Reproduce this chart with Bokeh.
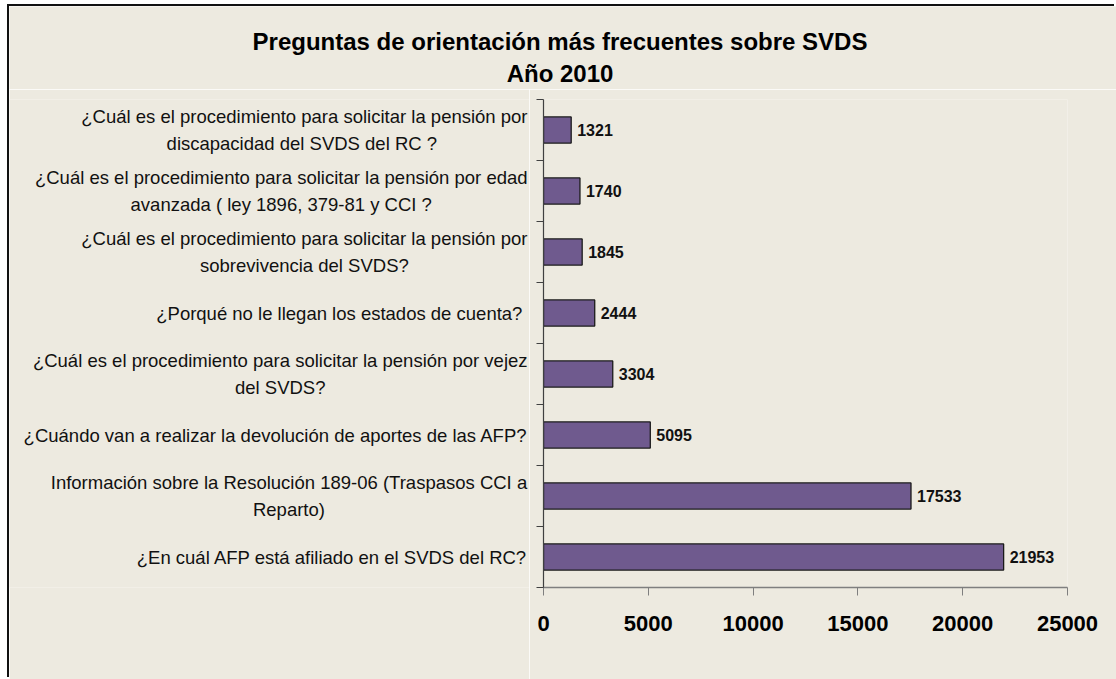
from bokeh.plotting import figure
from bokeh.models import ColumnDataSource, Range1d, FixedTicker, GlobalInlineStyleSheet
from bokeh.layouts import column, row
from bokeh.core.properties import value
from bokeh.embed import file_html
from bokeh.resources import INLINE

# ---------------- data ----------------
questions = [
    "¿Cuál es el procedimiento para solicitar la pensión por\ndiscapacidad del  SVDS del RC ?",
    "¿Cuál es el procedimiento para solicitar la pensión por edad\navanzada ( ley 1896, 379-81 y CCI ?",
    "¿Cuál es el procedimiento para solicitar la pensión por\nsobrevivencia del SVDS?",
    "¿Porqué no le  llegan los estados de cuenta?",
    "¿Cuál es el procedimiento para solicitar la pensión por vejez\ndel SVDS?",
    "¿Cuándo van a realizar la devolución de aportes de las AFP?",
    "Información sobre la Resolución 189-06 (Traspasos CCI a\nReparto)",
    "¿En cuál AFP está afiliado en el SVDS del RC?",
]
counts = [1321, 1740, 1845, 2444, 3304, 5095, 17533, 21953]
x_ticks = [0, 5000, 10000, 15000, 20000, 25000]
title_lines = ["Preguntas de orientación más frecuentes sobre SVDS", "Año 2010"]

# ---------------- layout constants (page pixels) ----------------
PAGE_W, PAGE_H = 1116, 679
ORIG_X, ORIG_Y = 9, 6            # inner (beige) origin after outer border
FRAME_L, FRAME_R, FRAME_T, FRAME_B = 543, 1067, 99, 587
CHART_MB_L, CHART_MB_T = 14, 10
CHART_MB_R, CHART_MB_B = PAGE_W - FRAME_R, PAGE_H - FRAME_B
CHART_X0 = FRAME_L - CHART_MB_L          # page x where chart figure starts
CHART_Y0 = FRAME_T - CHART_MB_T          # page y where chart figure starts
INNER_W = PAGE_W - ORIG_X
TITLE_H = CHART_Y0 - ORIG_Y
LABEL_W = CHART_X0 - ORIG_X
CHART_W = PAGE_W - CHART_X0
CHART_H = PAGE_H - CHART_Y0
X_MAX = 25000
N = len(questions)
BG = "#EDEAE0"
BAR = "#6F5A8E"
FONT = "Liberation Sans"
CAT_SIZE = 18.5
LABEL_RIGHT_PAGE = 527
TITLE_CX_PAGE = 559.5
TITLE_CY_PAGE = [41, 73]

# Arial-compatible advance widths (per 1000 em) to centre wrapped labels
W = {c: 556 for c in "0123456789"}
W.update(dict(A=667, B=667, C=722, D=722, E=667, F=611, G=778, H=722, I=278, J=500, K=667,
              L=556, M=833, N=722, O=778, P=667, Q=778, R=722, S=667, T=611, U=722, V=667,
              W=944, X=667, Y=667, Z=611))
W.update(dict(a=556, b=556, c=500, d=556, e=556, f=278, g=556, h=556, i=222, j=222, k=500,
              l=222, m=833, n=556, o=556, p=556, q=556, r=333, s=500, t=278, u=556, v=500,
              w=722, x=500, y=500, z=500))
W.update({" ": 278, "¿": 611, "?": 556, "(": 333, ")": 333, ",": 278, "-": 333, ".": 278,
          "á": 556, "é": 556, "í": 278, "ó": 556, "ú": 556, "ñ": 556})


def text_width(s, size):
    return max(sum(W.get(ch, 556) for ch in line) for line in s.split("\n")) * size / 1000.0


def base_fig(w, h, xr, yr, **kw):
    f = figure(width=w, height=h, output_backend="svg", toolbar_location=None,
               x_range=xr, y_range=yr, **kw)
    f.grid.visible = False
    f.outline_line_color = None
    f.background_fill_color = BG
    f.border_fill_color = BG
    return f


ypos = [N - 0.5 - i for i in range(N)]

# ---------------- chart ----------------
src = ColumnDataSource(dict(v=counts, y=ypos, lab=[str(c) for c in counts]))

p = base_fig(CHART_W, CHART_H, Range1d(0, X_MAX), Range1d(0, N),
             min_border_left=CHART_MB_L, min_border_right=CHART_MB_R,
             min_border_top=CHART_MB_T, min_border_bottom=CHART_MB_B)

p.hbar(y="y", right="v", left=0, height=0.43, source=src, fill_color=BAR,
       line_color="#1a1a1a", line_width=1.3)

p.text(x="v", y="y", text="lab", source=src, x_offset=6,
       text_align="left", text_baseline="middle",
       text_font=value(FONT), text_font_style="bold", text_font_size="16px",
       text_color="#111111")

p.xaxis.ticker = FixedTicker(ticks=x_ticks)
p.xaxis.major_tick_out = 8
p.xaxis.major_tick_in = 0
p.xaxis.minor_tick_line_color = None
p.xaxis.axis_line_color = "#7f7f7f"
p.xaxis.major_tick_line_color = "#7f7f7f"
p.xaxis.axis_line_width = 1.5
p.xaxis.major_label_text_font = FONT
p.xaxis.major_label_text_font_style = "bold"
p.xaxis.major_label_text_font_size = "22px"
p.xaxis.major_label_text_color = "black"
p.xaxis.major_label_standoff = 20

p.yaxis.ticker = FixedTicker(ticks=list(range(N + 1)))
p.yaxis.major_label_overrides = {i: "" for i in range(N + 1)}
p.yaxis.major_tick_out = 7
p.yaxis.major_tick_in = 0
p.yaxis.minor_tick_line_color = None
p.yaxis.axis_line_color = "#404040"
p.yaxis.major_tick_line_color = "#404040"
p.yaxis.axis_line_width = 1.2

# ---------------- category labels (frame aligned with chart frame in the row) ----------------
lf = base_fig(LABEL_W, CHART_H, Range1d(0, LABEL_W), Range1d(0, N),
              min_border_left=0, min_border_right=0,
              min_border_top=CHART_MB_T, min_border_bottom=CHART_MB_B)
lf.axis.visible = False
right_x = LABEL_RIGHT_PAGE - ORIG_X
lsrc = ColumnDataSource(dict(q=questions, y=ypos,
                             x=[right_x - text_width(q, CAT_SIZE) / 2.0 for q in questions]))
lf.text(x="x", y="y", text="q", source=lsrc, text_align="center", text_baseline="middle",
        text_font=value(FONT), text_font_size=f"{CAT_SIZE}px", text_color="#111111",
        text_line_height=1.25)

# ---------------- title ----------------
tf = base_fig(INNER_W, TITLE_H, Range1d(0, INNER_W), Range1d(TITLE_H, 0), min_border=0)
tf.axis.visible = False
tsrc = ColumnDataSource(dict(t=title_lines, x=[TITLE_CX_PAGE - ORIG_X] * 2,
                             y=[c - ORIG_Y for c in TITLE_CY_PAGE]))
tf.text(x="x", y="y", text="t", source=tsrc, text_align="center", text_baseline="middle",
        text_font=value(FONT), text_font_style="bold", text_font_size="24px", text_color="black")

layout = column(tf, row(lf, p, spacing=0), spacing=0, margin=(ORIG_Y, 0, 0, ORIG_X),
                styles={"box-shadow": "-2px -2px 0 0 #111111"},
                stylesheets=[GlobalInlineStyleSheet(css="html, body { overflow: hidden; }")])

open("out.html", "w").write(file_html(layout, INLINE))
